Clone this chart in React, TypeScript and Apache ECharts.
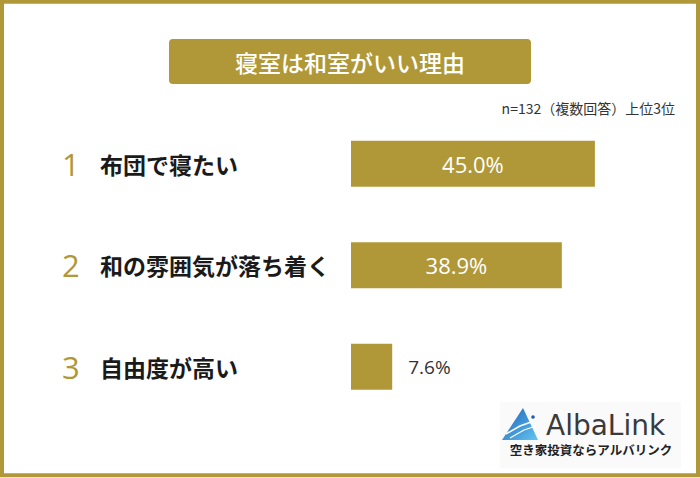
import React, { useEffect, useRef } from "react";
import * as echarts from "echarts";

const ranks = ["1", "2", "3"];
const categories = ["布団で寝たい", "和の雰囲気が落ち着く", "自由度が高い"];
const values = [45.0, 38.9, 7.6];
const titleText = "寝室は和室がいい理由";
const noteText = "n=132（複数回答）上位3位";

const GOLD = "#B09838";
const CJK = "'Noto Sans CJK JP', 'Noto Sans', sans-serif";

export default function App() {
  const ref = useRef<HTMLDivElement>(null);
  useEffect(() => {
    document.body.style.margin = "0";
    if (!ref.current) return;
    const chart = echarts.init(ref.current, null, { renderer: "svg" });
    chart.setOption({
      animation: false,
      backgroundColor: "#ffffff",
      grid: { left: 351, top: 113, width: 325.2, height: 304.5, containLabel: false },
      xAxis: { type: "value", min: 0, max: 60, show: false },
      yAxis: {
        type: "category",
        inverse: true,
        data: categories,
        axisLine: { show: false },
        axisTick: { show: false },
        splitLine: { show: false },
        axisLabel: {
          align: "left",
          margin: 289,
          formatter: (v: string, i: number) => `{num|${ranks[i]}}{txt|${v}}`,
          rich: {
            num: { width: 38, fontSize: 31, color: GOLD, fontFamily: "'Open Sans', sans-serif", fontWeight: 500 },
            txt: { fontSize: 23, fontWeight: "bold", color: "#1a1a1a", fontFamily: CJK },
          },
        },
      },
      series: [
        {
          type: "bar",
          barWidth: 46,
          itemStyle: { color: GOLD },
          label: {
            show: true,
            position: "inside",
            color: "#ffffff",
            fontSize: 22,
            fontWeight: 500,
            fontFamily: "'Open Sans', sans-serif",
            formatter: (p: any) => `${Number(p.value).toFixed(1)}%`,
          },
          data: values.map((v) =>
            v < 15
              ? { value: v, label: { position: "right", distance: 16, color: "#333333", fontSize: 19 } }
              : { value: v }
          ),
        },
      ],
      graphic: [
        {
          type: "rect",
          shape: { x: 2, y: 1.8, width: 696, height: 473.5 },
          style: { fill: "none", stroke: GOLD, lineWidth: 4 },
          silent: true,
        },
        {
          type: "rect",
          shape: { x: 169, y: 39, width: 362, height: 45, r: 4 },
          style: { fill: GOLD },
        },
        {
          type: "text",
          x: 350,
          y: 62,
          style: {
            text: titleText,
            fill: "#ffffff",
            fontSize: 23,
            fontWeight: 500,
            fontFamily: CJK,
            textAlign: "center",
            textVerticalAlign: "middle",
          },
        },
        {
          type: "text",
          x: 675,
          y: 108,
          style: {
            text: noteText,
            fill: "#333333",
            fontSize: 14,
            fontFamily: CJK,
            textAlign: "right",
            textVerticalAlign: "middle",
          },
        },
        {
          type: "rect",
          shape: { x: 500, y: 402, width: 181, height: 66 },
          style: { fill: "#fafafa" },
        },
        {
          type: "polygon",
          shape: { points: [[523, 408], [502, 440], [538, 440]] },
          style: {
            fill: new echarts.graphic.LinearGradient(0, 0, 1, 1, [
              { offset: 0, color: "#1c5fb8" },
              { offset: 1, color: "#62c6f0" },
            ]),
          },
        },
        {
          type: "polyline",
          shape: { points: [[506, 434], [520, 426], [534, 421]] },
          style: { stroke: "#ffffff", lineWidth: 1.5, fill: "none" },
        },
        {
          type: "polyline",
          shape: { points: [[510, 438], [524, 430], [536, 426]] },
          style: { stroke: "#ffffff", lineWidth: 1.2, fill: "none" },
        },
        {
          type: "circle",
          shape: { cx: 533, cy: 417, r: 1.8 },
          style: { fill: "#1c5fb8" },
        },
        {
          type: "text",
          x: 546,
          y: 425,
          style: {
            text: "AlbaLink",
            fill: "#3a3a3a",
            fontSize: 28,
            fontFamily: "'DejaVu Sans', sans-serif",
            textAlign: "left",
            textVerticalAlign: "middle",
          },
        },
        {
          type: "text",
          x: 591,
          y: 449,
          style: {
            text: "空き家投資ならアルバリンク",
            fill: "#222222",
            fontSize: 12.5,
            fontWeight: "bold",
            fontFamily: CJK,
            textAlign: "center",
            textVerticalAlign: "middle",
          },
        },
      ],
    });
    return () => chart.dispose();
  }, []);
  return <div ref={ref} style={{ width: 700, height: 478, position: "absolute", left: 0, top: 0 }} />;
}
